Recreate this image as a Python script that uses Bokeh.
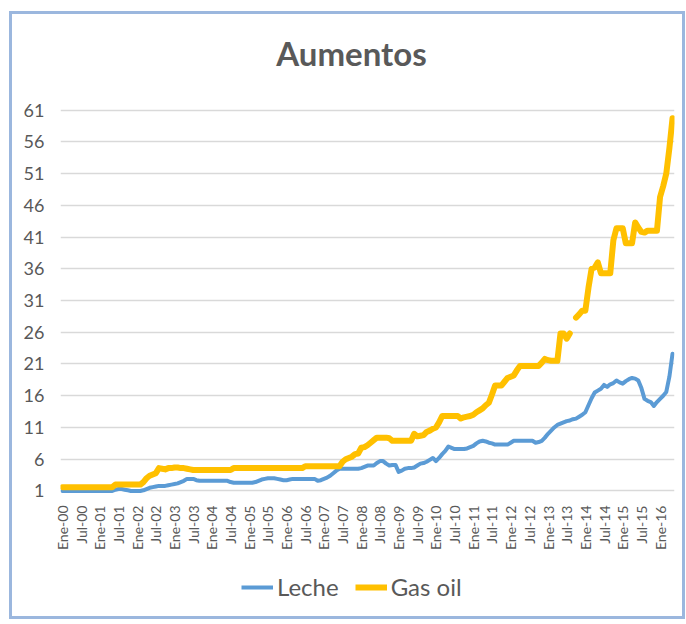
import math
from bokeh.plotting import figure
from bokeh.layouts import column
from bokeh.models import Range1d, FixedTicker, Legend, LegendItem, Label
from bokeh.embed import file_html
from bokeh.resources import INLINE

NaN = float("nan")

# Monthly series, Jan-2000 .. May-2016
leche = [
    1.0, 1.0, 1.0, 1.0, 1.0, 1.0, 1.0, 1.0, 1.0, 1.0, 1.0, 1.0, 1.0, 1.0, 1.0, 1.0, 1.0,
    1.2, 1.3, 1.3, 1.2, 1.1, 1.0, 1.0, 1.0, 1.0,
    1.1, 1.3, 1.5, 1.6, 1.7, 1.8, 1.8, 1.8, 1.9, 2.0, 2.1, 2.2, 2.4, 2.6, 2.9, 2.9, 2.9, 2.7, 2.6,
    2.6, 2.6, 2.6, 2.6, 2.6, 2.6, 2.6, 2.6, 2.6,
    2.4,
    2.3, 2.3, 2.3, 2.3, 2.3, 2.3, 2.3,
    2.4, 2.6, 2.8, 2.9, 3.0, 3.0, 3.0, 2.9, 2.8, 2.7, 2.7, 2.8, 2.9,
    2.9, 2.9, 2.9, 2.9, 2.9, 2.9, 2.9,
    2.6, 2.7, 2.9, 3.1, 3.4, 3.8, 4.2, 4.5,
    4.5, 4.5, 4.5, 4.5, 4.5, 4.5,
    4.6, 4.8, 5.0, 5.0, 5.0, 5.4, 5.7, 5.7, 5.3, 5.0, 5.1, 5.1, 4.0, 4.2, 4.5, 4.6,
    4.6, 4.7, 5.0, 5.3, 5.4, 5.6, 5.9, 6.2, 5.7, 6.2, 6.8, 7.3, 8.0, 7.8, 7.6,
    7.6, 7.6, 7.6,
    7.7, 7.9, 8.1, 8.5, 8.8, 8.9, 8.8, 8.6, 8.5,
    8.3, 8.3, 8.3, 8.3, 8.3,
    8.6, 8.9,
    8.9, 8.9, 8.9, 8.9, 8.9, 8.9,
    8.6, 8.7, 8.9, 9.4, 10.0, 10.5, 11.0, 11.4, 11.6, 11.8, 12.0, 12.1, 12.3, 12.4, 12.7,
    13.0, 13.4, 14.5, 15.6, 16.5, 16.8, 17.1, 17.7, 17.4, 17.8, 18.0, 18.4, 18.1, 17.9,
    18.3, 18.6, 18.8, 18.7, 18.4, 17.2, 15.5, 15.2, 15.0, 14.4, 15.0, 15.5, 16.0, 16.6,
    19.0, 22.6,
]

gas_oil = [
    1.6, 1.6, 1.6, 1.6, 1.6, 1.6, 1.6, 1.6, 1.6, 1.6, 1.6, 1.6, 1.6, 1.6, 1.6, 1.6, 1.6,
    2.0, 2.0, 2.0, 2.0, 2.0, 2.0, 2.0, 2.0, 2.0,
    2.4, 3.0, 3.4, 3.6, 3.8, 4.6, 4.5, 4.4, 4.6, 4.6, 4.7, 4.7, 4.6, 4.6, 4.5, 4.4,
    4.3, 4.3, 4.3, 4.3, 4.3, 4.3, 4.3, 4.3, 4.3, 4.3, 4.3, 4.3, 4.3,
    4.6, 4.6, 4.6, 4.6, 4.6, 4.6, 4.6, 4.6, 4.6, 4.6, 4.6, 4.6, 4.6, 4.6, 4.6, 4.6,
    4.6, 4.6, 4.6, 4.6, 4.6, 4.6, 4.6,
    4.9, 4.9, 4.9, 4.9, 4.9, 4.9, 4.9, 4.9, 4.9, 4.9, 4.9, 4.9,
    5.6, 6.0, 6.2, 6.4, 6.8, 6.9, 7.8, 7.9, 8.2, 8.6, 9.0, 9.4, 9.4, 9.4, 9.4, 9.3,
    8.9, 8.9, 8.9, 8.9, 8.9, 8.9, 8.9,
    10.0, 9.6, 9.7, 9.8, 10.3, 10.5, 10.8, 11.0, 11.8, 12.8,
    12.8, 12.8, 12.8, 12.8, 12.8,
    12.4, 12.6, 12.7, 12.8, 13.0, 13.4, 13.7, 14.0, 14.5, 14.9, 16.2, 17.6, 17.6, 17.6,
    18.2, 18.8, 19.0, 19.2, 20.0, 20.7,
    20.7, 20.7, 20.7, 20.7, 20.7, 20.7,
    21.2, 21.8, 21.6, 21.5, 21.5, 21.5, 25.8, 25.8, 25.0, 25.8,
    NaN,
    28.3, 28.8, 29.4, 29.4, 33.0, 36.0, 36.2, 37.0, 35.3,
    35.3, 35.3, 35.3,
    40.5, 42.4, 42.4, 42.4, 40.0, 40.0, 40.0, 43.3, 42.5, 41.8, 41.7,
    42.0, 42.0, 42.0, 42.0,
    47.3, 49.0, 51.0, 55.0, 59.7,
]

x_tick_labels = [
    "Ene-00", "Jul-00", "Ene-01", "Jul-01", "Ene-02", "Jul-02", "Ene-03", "Jul-03",
    "Ene-04", "Jul-04", "Ene-05", "Jul-05", "Ene-06", "Jul-06", "Ene-07", "Jul-07",
    "Ene-08", "Jul-08", "Ene-09", "Jul-09", "Ene-10", "Jul-10", "Ene-11", "Jul-11",
    "Ene-12", "Jul-12", "Ene-13", "Jul-13", "Ene-14", "Jul-14", "Ene-15", "Jul-15",
    "Ene-16",
]
y_ticks = [1, 6, 11, 16, 21, 26, 31, 36, 41, 46, 51, 56, 61]
series_names = ["Leche", "Gas oil"]
series_colors = ["#5b9bd5", "#ffc000"]
title_text = "Aumentos"

x_idx = list(range(len(leche)))
tick_pos = [6 * i for i in range(len(x_tick_labels))]

FONT = "Lato"
GREY = "#595959"
W = 670
BL, BR = 48, 8  # side borders of the main chart (frames of all strips align to them)

# ---- title strip (x range in canvas pixels of the aligned frame) ----
tt = figure(
    width=W, height=70, output_backend="svg", toolbar_location=None,
    x_range=Range1d(BL, W - BR), y_range=Range1d(0, 70),
    x_axis_location=None, y_axis_location=None, min_border=0,
)
tt.grid.visible = False
tt.outline_line_color = None
tt.add_layout(Label(
    x=339, y=31.5, text=title_text, text_align="center", text_baseline="middle",
    text_font=FONT, text_font_size="33px", text_font_style="bold", text_color=GREY,
))

# ---- main chart ----
p = figure(
    width=W, height=480,
    output_backend="svg", toolbar_location=None,
    x_range=Range1d(-0.64, len(leche) - 0.36),
    y_range=Range1d(0.6, 61.4),
    min_border_left=BL, min_border_right=BR, min_border_top=23, min_border_bottom=71,
)
p.outline_line_color = None
p.xgrid.grid_line_color = None
p.ygrid.grid_line_color = "#d9d9d9"
p.ygrid.grid_line_width = 1.5
p.ygrid.ticker = FixedTicker(ticks=y_ticks)

p.yaxis.ticker = FixedTicker(ticks=y_ticks)
p.yaxis.axis_line_color = None
p.yaxis.major_tick_line_color = None
p.yaxis.minor_tick_line_color = None
p.yaxis.major_label_text_font = FONT
p.yaxis.major_label_text_font_size = "18px"
p.yaxis.major_label_text_color = GREY
p.yaxis.major_label_standoff = 10

p.xaxis.ticker = FixedTicker(ticks=tick_pos)
p.xaxis.major_label_overrides = {pos: lab for pos, lab in zip(tick_pos, x_tick_labels)}
p.xaxis.major_label_orientation = math.pi / 2
p.xaxis.axis_line_color = None
p.xaxis.major_tick_line_color = None
p.xaxis.minor_tick_line_color = None
p.xaxis.major_label_text_font = FONT
p.xaxis.major_label_text_font_size = "14px"
p.xaxis.major_label_text_color = GREY
p.xaxis.major_label_standoff = 6

p.line(x_idx, leche, line_color=series_colors[0], line_width=4, line_join="round", line_cap="round")
p.line(x_idx, gas_oil, line_color=series_colors[1], line_width=6, line_join="round", line_cap="round")

# ---- legend strip (proxy lines sit outside the visible range) ----
lg = figure(
    width=W, height=52,
    output_backend="svg", toolbar_location=None,
    x_range=Range1d(0, 1), y_range=Range1d(0, 1),
    x_axis_location=None, y_axis_location=None, min_border=0,
)
lg.grid.visible = False
lg.outline_line_color = None
lr1 = lg.line([5, 6], [5, 6], line_color=series_colors[0], line_width=4)
lr2 = lg.line([5, 6], [5, 6], line_color=series_colors[1], line_width=6)
legend = Legend(
    items=[LegendItem(label=series_names[0], renderers=[lr1]),
           LegendItem(label=series_names[1], renderers=[lr2])],
    orientation="horizontal",
    location=(181, 15),
    label_text_font=FONT,
    label_text_font_size="24px",
    label_text_color=GREY,
    glyph_width=32,
    label_standoff=4,
    spacing=16,
    border_line_color=None,
    background_fill_alpha=0,
    margin=0,
    padding=0,
)
lg.add_layout(legend, "center")

layout = column(
    tt, p, lg, spacing=0,
    styles={"border": "3px solid #9bb7de", "margin-left": "9px", "margin-top": "11px"},
)

open("out.html", "w").write(file_html(layout, INLINE))
